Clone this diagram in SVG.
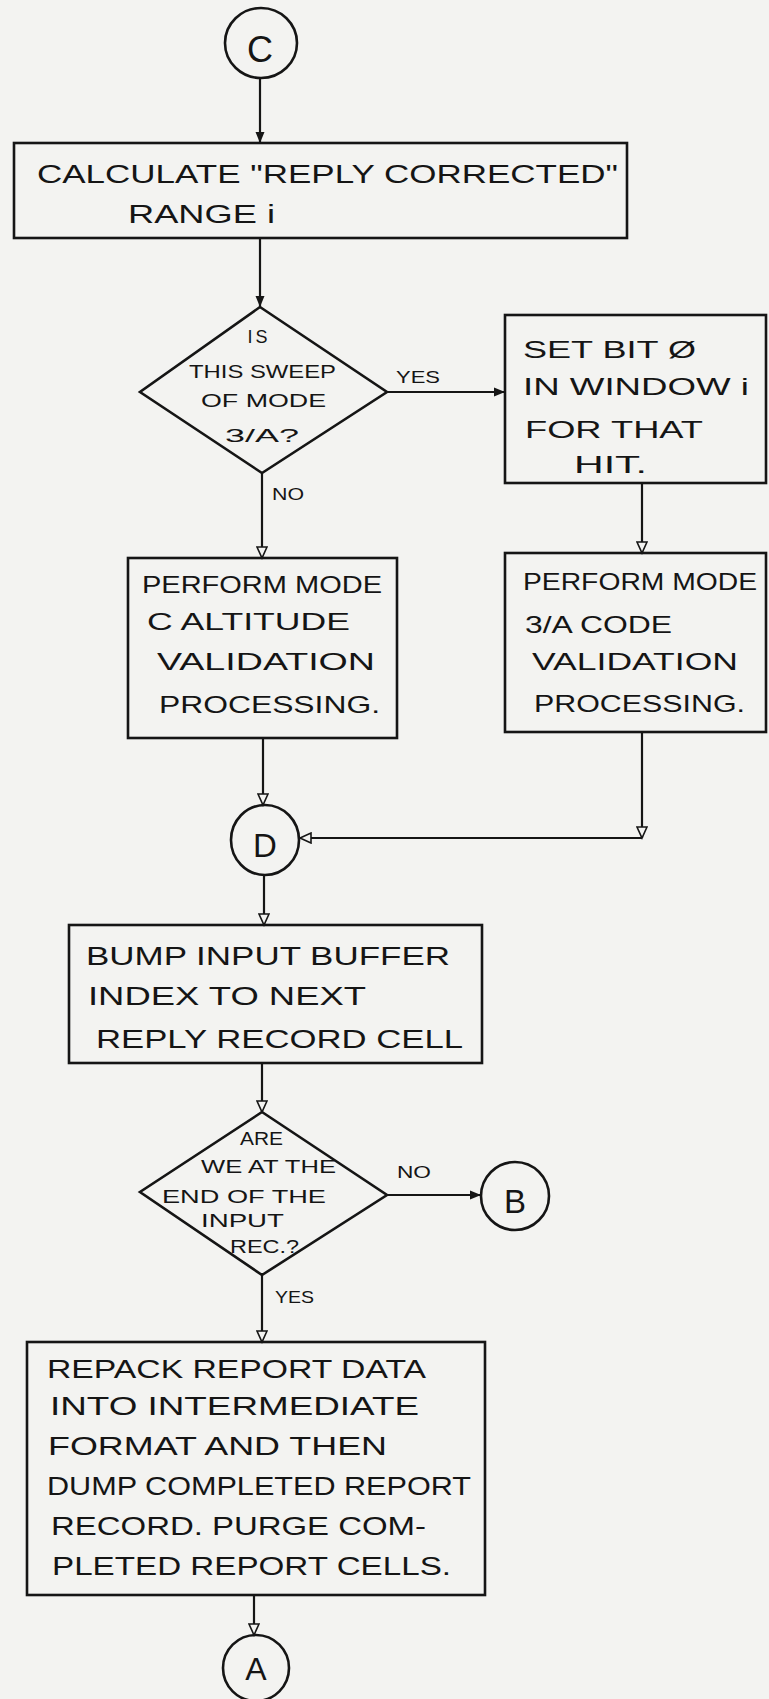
<svg xmlns="http://www.w3.org/2000/svg" width="769" height="1699" viewBox="0 0 769 1699">
<defs>
<marker id="af" markerUnits="userSpaceOnUse" markerWidth="12" markerHeight="10" refX="11" refY="5" orient="auto"><path d="M0,0.5 L11,5 L0,9.5 z" fill="#151515"/></marker>
<marker id="ah" markerUnits="userSpaceOnUse" markerWidth="14" markerHeight="12" refX="12" refY="6" orient="auto"><path d="M1,1 L12,6 L1,11 z" fill="#f3f3f1" stroke="#151515" stroke-width="1.6"/></marker>
<style>
.bx{fill:none;stroke:#151515;stroke-width:2.6}
.ln{fill:none;stroke:#151515;stroke-width:2.2}
.t{font-family:"Liberation Sans",Arial,sans-serif;fill:#151515;font-size:24px}
.d{font-size:18px}
.l{font-size:17px}
.c{font-size:36px;text-anchor:middle}
</style>
</defs>
<rect x="0" y="0" width="769" height="1699" fill="#f3f3f1"/>

<g id="connectors">
<path class="ln" d="M260,78 L260,143" marker-end="url(#af)"/>
<path class="ln" d="M260,238 L260,307" marker-end="url(#af)"/>
<path class="ln" d="M387,392 L505,392" marker-end="url(#af)"/>
<path class="ln" d="M262,473 L262,558" marker-end="url(#ah)"/>
<path class="ln" d="M642,483 L642,553" marker-end="url(#ah)"/>
<path class="ln" d="M263,738 L263,805" marker-end="url(#ah)"/>
<path class="ln" d="M642,732 L642,838" marker-end="url(#ah)"/>
<path class="ln" d="M642,838 L300,838" marker-end="url(#ah)"/>
<path class="ln" d="M264,875 L264,925" marker-end="url(#ah)"/>
<path class="ln" d="M262,1063 L262,1112" marker-end="url(#ah)"/>
<path class="ln" d="M387,1195 L481,1195" marker-end="url(#af)"/>
<path class="ln" d="M262,1275 L262,1342" marker-end="url(#ah)"/>
<path class="ln" d="M254,1595 L254,1635" marker-end="url(#ah)"/>
<text class="t l" x="396" y="383" textLength="44" lengthAdjust="spacingAndGlyphs">YES</text>
<text class="t l" x="272" y="500" textLength="32" lengthAdjust="spacingAndGlyphs">NO</text>
<text class="t l" x="397" y="1178" textLength="34" lengthAdjust="spacingAndGlyphs">NO</text>
<text class="t l" x="275" y="1303" textLength="39" lengthAdjust="spacingAndGlyphs">YES</text>
</g>

<g id="connC">
<ellipse class="bx" cx="261" cy="43" rx="36" ry="35"/>
<text class="t c" x="260" y="62">C</text>
</g>

<g id="box1">
<rect class="bx" x="14" y="143" width="613" height="95"/>
<text class="t" x="37" y="183" textLength="581" lengthAdjust="spacingAndGlyphs" style="font-size:25px">CALCULATE "REPLY CORRECTED"</text>
<text class="t" x="128" y="223" textLength="147" lengthAdjust="spacingAndGlyphs" style="font-size:25px">RANGE i</text>
</g>

<g id="dec1">
<polygon class="bx" points="260,307 387,392 262,473 140,392"/>
<text class="t d" x="259" y="343" text-anchor="middle" letter-spacing="3">IS</text>
<text class="t d" x="189" y="378" textLength="147" lengthAdjust="spacingAndGlyphs">THIS SWEEP</text>
<text class="t d" x="201" y="407" textLength="125" lengthAdjust="spacingAndGlyphs">OF MODE</text>
<text class="t d" x="225" y="442" textLength="74" lengthAdjust="spacingAndGlyphs">3/A?</text>
</g>

<g id="box2">
<rect class="bx" x="505" y="315" width="261" height="168"/>
<text class="t" x="523" y="358" textLength="173" lengthAdjust="spacingAndGlyphs">SET BIT Ø</text>
<text class="t" x="523" y="395" textLength="226" lengthAdjust="spacingAndGlyphs">IN WINDOW i</text>
<text class="t" x="525" y="438" textLength="178" lengthAdjust="spacingAndGlyphs">FOR THAT</text>
<text class="t" x="574" y="473" textLength="73" lengthAdjust="spacingAndGlyphs">HIT.</text>
</g>

<g id="box3">
<rect class="bx" x="128" y="558" width="269" height="180"/>
<text class="t" x="142" y="593" textLength="240" lengthAdjust="spacingAndGlyphs">PERFORM MODE</text>
<text class="t" x="147" y="630" textLength="203" lengthAdjust="spacingAndGlyphs">C ALTITUDE</text>
<text class="t" x="157" y="670" textLength="218" lengthAdjust="spacingAndGlyphs">VALIDATION</text>
<text class="t" x="159" y="713" textLength="221" lengthAdjust="spacingAndGlyphs">PROCESSING.</text>
</g>

<g id="box4">
<rect class="bx" x="505" y="553" width="261" height="179"/>
<text class="t" x="523" y="590" textLength="234" lengthAdjust="spacingAndGlyphs">PERFORM MODE</text>
<text class="t" x="525" y="633" textLength="147" lengthAdjust="spacingAndGlyphs">3/A CODE</text>
<text class="t" x="532" y="670" textLength="206" lengthAdjust="spacingAndGlyphs">VALIDATION</text>
<text class="t" x="534" y="712" textLength="211" lengthAdjust="spacingAndGlyphs">PROCESSING.</text>
</g>

<g id="connD">
<ellipse class="bx" cx="265" cy="840" rx="34" ry="35"/>
<text class="t c" x="265" y="857" style="font-size:33px">D</text>
</g>

<g id="box5">
<rect class="bx" x="69" y="925" width="413" height="138"/>
<text class="t" x="86" y="965" textLength="364" lengthAdjust="spacingAndGlyphs" style="font-size:26px">BUMP INPUT BUFFER</text>
<text class="t" x="88" y="1005" textLength="278" lengthAdjust="spacingAndGlyphs" style="font-size:26px">INDEX TO NEXT</text>
<text class="t" x="96" y="1048" textLength="367" lengthAdjust="spacingAndGlyphs" style="font-size:26px">REPLY RECORD CELL</text>
</g>

<g id="dec2">
<polygon class="bx" points="262,1112 387,1195 262,1275 140,1192"/>
<text class="t d" x="240" y="1145" textLength="43" lengthAdjust="spacingAndGlyphs">ARE</text>
<text class="t d" x="201" y="1173" textLength="135" lengthAdjust="spacingAndGlyphs">WE AT THE</text>
<text class="t d" x="162" y="1203" textLength="164" lengthAdjust="spacingAndGlyphs">END OF THE</text>
<text class="t d" x="201" y="1227" textLength="83" lengthAdjust="spacingAndGlyphs">INPUT</text>
<text class="t d" x="230" y="1253" textLength="69" lengthAdjust="spacingAndGlyphs">REC.?</text>
</g>

<g id="connB">
<ellipse class="bx" cx="515" cy="1196" rx="34" ry="34"/>
<text class="t c" x="515" y="1213" style="font-size:33px">B</text>
</g>

<g id="box6">
<rect class="bx" x="27" y="1342" width="458" height="253"/>
<text class="t" x="47" y="1378" textLength="379" lengthAdjust="spacingAndGlyphs" style="font-size:25px">REPACK REPORT DATA</text>
<text class="t" x="50" y="1415" textLength="369" lengthAdjust="spacingAndGlyphs" style="font-size:25px">INTO INTERMEDIATE</text>
<text class="t" x="48" y="1455" textLength="339" lengthAdjust="spacingAndGlyphs" style="font-size:25px">FORMAT AND THEN</text>
<text class="t" x="47" y="1495" textLength="424" lengthAdjust="spacingAndGlyphs" style="font-size:25px">DUMP COMPLETED REPORT</text>
<text class="t" x="51" y="1535" textLength="375" lengthAdjust="spacingAndGlyphs" style="font-size:25px">RECORD. PURGE COM-</text>
<text class="t" x="52" y="1575" textLength="399" lengthAdjust="spacingAndGlyphs" style="font-size:25px">PLETED REPORT CELLS.</text>
</g>

<g id="connA">
<ellipse class="bx" cx="256" cy="1668" rx="33" ry="33"/>
<text class="t c" x="256" y="1680" style="font-size:32px">A</text>
</g>
</svg>
